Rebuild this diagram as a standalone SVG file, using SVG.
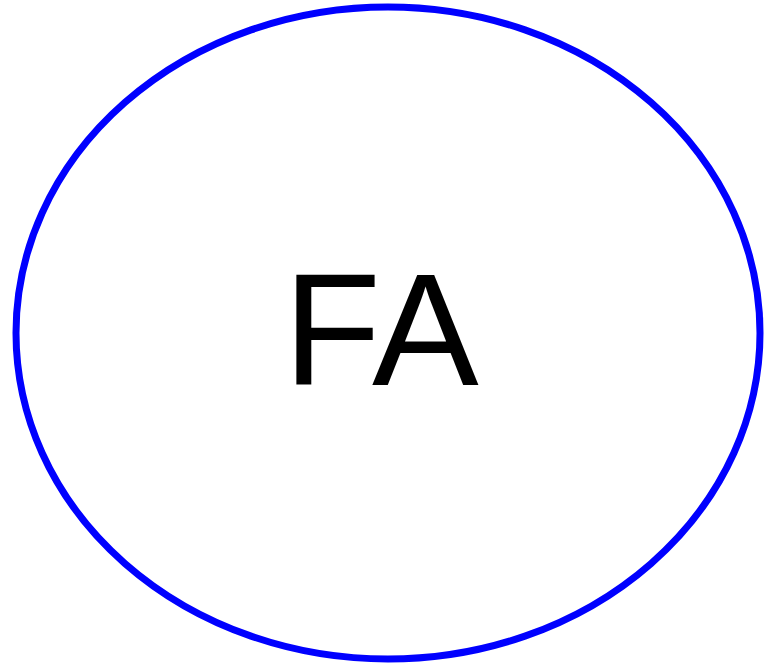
<svg xmlns="http://www.w3.org/2000/svg" width="765" height="667" viewBox="0 0 765 667">
<style>
.node-shape{fill:#ffffff;stroke:#0000ff;stroke-width:7}
.node-label{font-family:"Liberation Sans",Arial,sans-serif;font-size:160px;fill:#000000;text-anchor:middle}
</style>
<rect width="765" height="667" fill="#ffffff"/>
<g id="connectors"></g>
<g id="node-FA">
<ellipse class="node-shape" cx="388" cy="333" rx="372" ry="326"/>
<text class="node-label" x="381" y="385">FA</text>
</g>
</svg>
